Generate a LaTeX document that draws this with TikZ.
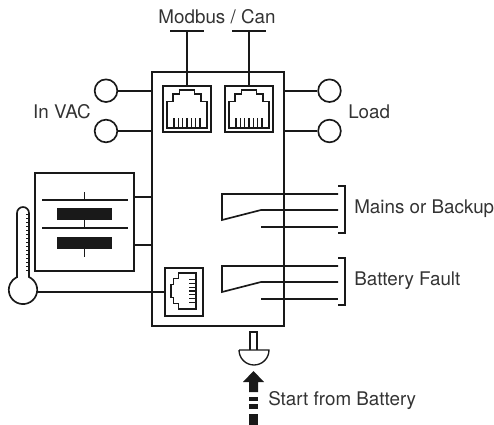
\documentclass[tikz,border=0pt]{standalone}
\usepackage{fontspec}
\setmainfont{TeX Gyre Heros}
\tikzset{
  wire/.style={line width=1.25pt,draw=black!90},
  thin wire/.style={line width=1pt,draw=black!90},
  label/.style={inner sep=0pt,font=\fontsize{14.1}{17}\selectfont,text=black!80},
  terminal/.style={circle,draw=black!90,line width=1.25pt,minimum size=17pt,inner sep=0pt},
  casing/.style={rectangle,draw=black!90,line width=1.25pt,inner sep=0pt},
  jack/.pic={
    \draw[line width=1.1pt,draw=black!90] (-20,19) -- (-20,-7.5) -- (-14,-7.5) -- (-14,-15) -- (-7.5,-15) -- (-7.5,-19)
      -- (7.5,-19) -- (7.5,-15) -- (14,-15) -- (14,-7.5) -- (20,-7.5) -- (20,19) -- cycle;
    \foreach \x in {-13,-8.7,-4.3,0,4.3,8.7,13}
    {
      \draw[line width=0.8pt,draw=black!90] (\x,9) -- (\x,19);
    }
  }
}
\begin{document}
\begin{tikzpicture}[x=0.75pt,y=-0.75pt]
\useasboundingbox (0,0) rectangle (494,425);

% Main casing
\node[casing,minimum width=98.8pt,minimum height=190.3pt] (unit) at (217.8,198.9) {};

% Communication ports
\node[casing,minimum width=36pt,minimum height=34.5pt] (portA) at (187,108.7) {};
\node[casing,minimum width=36pt,minimum height=34.5pt] (portB) at (249,108.7) {};
\pic at (187,109) {jack};
\pic at (249,109) {jack};

\coordinate (busA) at (187,31);
\coordinate (busB) at (249,31);
\draw[wire] (busA) -- (portA.north);
\draw[wire] (busB) -- (portB.north);
\draw[wire] ([xshift=-12.5pt]busA) -- ([xshift=12.5pt]busA);
\draw[wire] ([xshift=-12.5pt]busB) -- ([xshift=12.5pt]busB);
\node[label] (busLabel) at (217,17) {Modbus / Can};

% In VAC and Load
\node[terminal] (inA) at (106,90.7) {};
\node[terminal] (inB) at (106,131) {};
\node[terminal] (outA) at (329.5,90.7) {};
\node[terminal] (outB) at (329.5,131) {};
\draw[wire] (inA) -- (inA -| unit.west);
\draw[wire] (inB) -- (inB -| unit.west);
\draw[wire] (outA) -- (outA -| unit.east);
\draw[wire] (outB) -- (outB -| unit.east);
\node[label,anchor=east] (inLabel) at (91,112) {In VAC};
\node[label,anchor=west] (outLabel) at (348,112) {Load};

% Battery
\node[casing,minimum width=74pt,minimum height=73.5pt] (battery) at (84.5,222) {};
\coordinate (batA) at (134,197);
\coordinate (batB) at (134,245);
\draw[wire] (batA) -- (batA -| unit.west);
\draw[wire] (batB) -- (batB -| unit.west);
\draw[thin wire] (42,200) -- (128,200);
\draw[thin wire] (42,228) -- (128,228);
\fill[black!90] (57,208) rectangle (112,220);
\fill[black!90] (57,237) rectangle (112,249);
\draw[thin wire] (84.7,192) -- (84.7,200);
\draw[thin wire] (84.7,220) -- (84.7,228);
\draw[thin wire] (84.7,249) -- (84.7,257);

% Thermometer
\draw[wire] (17,277) -- (17,213) arc (180:360:6) -- (29,277) arc (-65:245:14.2) -- cycle;
\foreach \y in {214,218,222,226,230,234,238,242,246,250,254,258,262,266,270}
{
  \draw[line width=0.6pt,draw=black!90] (26,\y) -- (29,\y);
}
\node[casing,minimum width=28.5pt,minimum height=36pt] (sensor) at (184,292) {};
\pic[rotate=90,xscale=0.9,yscale=0.66] at (183.5,291) {jack};
\coordinate (bulb) at (37,292);
\draw[wire] (bulb) -- (sensor.west);

% Relays
\foreach \y/\name/\text in {194/Mains or Backup/mains,266/Battery Fault/fault}
{
  \draw[wire] (338,\y) -- (222,\y) -- (222,\y+26) -- (261,\y+16) -- (338,\y+16);
  \draw[wire] (261,\y+33) -- (338,\y+33);
  \draw[line width=0.8pt,draw=black!90] (338,\y-8) -- (345,\y-8) -- (345,\y+39) -- (338,\y+39);
  \node[label,anchor=west] (\text) at (354,\y+15) {\name};
}

% Start from battery
\draw[line width=1pt,draw=black!90] (250,350) -- (250,332) -- (257,332) -- (257,350);
\draw[line width=1pt,draw=black!90] (239,350) -- (269,350) arc (0:180:15);
\fill[black!90] (253.5,371) -- (264,382) -- (258,382) -- (258,392) -- (249,392) -- (249,382) -- (243,382) -- cycle;
\foreach \y/\z in {397/401,404/409,414/425}
{
  \fill[black!90] (249,\y) rectangle (258,\z);
}
\node[label,anchor=west] (startLabel) at (268,401) {Start from Battery};

\end{tikzpicture}
\end{document}
